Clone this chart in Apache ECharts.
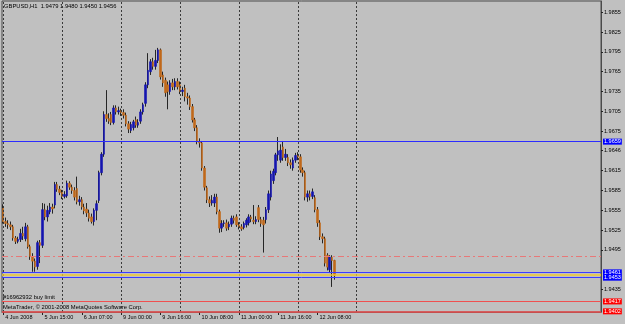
<!DOCTYPE html>
<html><head><meta charset="utf-8">
<script src="https://cdn.jsdelivr.net/npm/echarts@6/dist/echarts.min.js"></script>
<style>html,body{margin:0;padding:0;background:#c0c0c0}#c{width:625px;height:324px}</style>
</head><body><div id="c"></div><script>
const symbol = 'GBPUSD,H1';
const opens = [1.9558,1.9538,1.9535,1.9533,1.9530,1.9513,1.9508,1.9511,1.9520,1.9512,
1.9530,1.9500,1.9485,1.9478,1.9470,1.9506,1.9502,1.9556,1.9545,1.9553,
1.9560,1.9563,1.9594,1.9587,1.9582,1.9576,1.9577,1.9596,1.9590,1.9585,
1.9588,1.9568,1.9571,1.9560,1.9557,1.9551,1.9545,1.9538,1.9555,1.9570,
1.9612,1.9640,1.9700,1.9694,1.9700,1.9688,1.9710,1.9704,1.9706,1.9703,
1.9699,1.9686,1.9676,1.9680,1.9692,1.9684,1.9690,1.9704,1.9717,1.9745,
1.9765,1.9780,1.9773,1.9782,1.9798,1.9760,1.9752,1.9745,1.9735,1.9748,
1.9742,1.9750,1.9745,1.9735,1.9740,1.9727,1.9725,1.9712,1.9692,1.9680,
1.9659,1.9657,1.9619,1.9589,1.9571,1.9566,1.9566,1.9575,1.9553,1.9528,
1.9535,1.9536,1.9530,1.9534,1.9543,1.9545,1.9533,1.9530,1.9529,1.9533,
1.9536,1.9545,1.9540,1.9538,1.9559,1.9541,1.9540,1.9541,1.9556,1.9575,
1.9600,1.9612,1.9639,1.9631,1.9651,1.9635,1.9635,1.9627,1.9619,1.9631,
1.9638,1.9636,1.9616,1.9612,1.9575,1.9580,1.9576,1.9574,1.9556,1.9536,
1.9515,1.9512,1.9487,1.9465,1.9484,1.9479];
const closes = [1.9538,1.9535,1.9533,1.9530,1.9513,1.9508,1.9511,1.9520,1.9516,1.9530,
1.9500,1.9485,1.9478,1.9469,1.9506,1.9502,1.9556,1.9545,1.9555,1.9560,
1.9557,1.9594,1.9587,1.9582,1.9576,1.9579,1.9596,1.9590,1.9585,1.9575,
1.9568,1.9571,1.9560,1.9554,1.9551,1.9543,1.9538,1.9555,1.9565,1.9612,
1.9640,1.9700,1.9694,1.9690,1.9688,1.9710,1.9704,1.9706,1.9703,1.9699,
1.9686,1.9678,1.9685,1.9689,1.9684,1.9688,1.9704,1.9715,1.9745,1.9767,
1.9780,1.9773,1.9782,1.9798,1.9757,1.9748,1.9733,1.9735,1.9748,1.9742,
1.9750,1.9742,1.9735,1.9737,1.9727,1.9725,1.9712,1.9692,1.9680,1.9659,
1.9657,1.9619,1.9590,1.9571,1.9566,1.9570,1.9575,1.9553,1.9528,1.9535,
1.9536,1.9528,1.9534,1.9543,1.9540,1.9533,1.9530,1.9527,1.9535,1.9540,
1.9545,1.9542,1.9538,1.9541,1.9541,1.9535,1.9533,1.9556,1.9580,1.9610,
1.9614,1.9639,1.9645,1.9646,1.9635,1.9640,1.9627,1.9624,1.9631,1.9638,
1.9636,1.9616,1.9612,1.9575,1.9580,1.9576,1.9583,1.9556,1.9536,1.9515,
1.9512,1.9475,1.9469,1.9484,1.9479,1.9456];
const lows = [1.9535,1.9530,1.9527,1.9525,1.9509,1.9504,1.9505,1.9507,1.9510,1.9508,
1.9497,1.9480,1.9462,1.9462,1.9465,1.9475,1.9498,1.9540,1.9538,1.9549,
1.9550,1.9558,1.9583,1.9578,1.9572,1.9573,1.9574,1.9586,1.9580,1.9570,
1.9564,1.9562,1.9556,1.9549,1.9545,1.9538,1.9535,1.9532,1.9540,1.9566,
1.9608,1.9636,1.9689,1.9686,1.9684,1.9685,1.9700,1.9700,1.9698,1.9694,
1.9682,1.9672,1.9672,1.9676,1.9680,1.9680,1.9686,1.9700,1.9712,1.9740,
1.9760,1.9768,1.9768,1.9778,1.9753,1.9742,1.9727,1.9708,1.9730,1.9737,
1.9737,1.9738,1.9731,1.9728,1.9720,1.9715,1.9707,1.9688,1.9675,1.9655,
1.9650,1.9615,1.9585,1.9566,1.9560,1.9562,1.9560,1.9549,1.9521,1.9522,
1.9530,1.9524,1.9525,1.9530,1.9535,1.9530,1.9526,1.9524,1.9526,1.9529,
1.9532,1.9537,1.9534,1.9534,1.9537,1.9530,1.9491,1.9535,1.9551,1.9570,
1.9595,1.9608,1.9630,1.9627,1.9630,1.9630,1.9622,1.9618,1.9615,1.9627,
1.9631,1.9612,1.9606,1.9570,1.9568,1.9570,1.9572,1.9552,1.9530,1.9510,
1.9505,1.9470,1.9464,1.9460,1.9439,1.9450];
const highs = [1.9564,1.9544,1.9540,1.9538,1.9533,1.9516,1.9515,1.9527,1.9530,1.9536,
1.9533,1.9503,1.9490,1.9482,1.9509,1.9510,1.9566,1.9565,1.9562,1.9566,
1.9565,1.9598,1.9598,1.9592,1.9586,1.9584,1.9600,1.9599,1.9594,1.9590,
1.9606,1.9577,1.9575,1.9565,1.9566,1.9556,1.9550,1.9558,1.9570,1.9615,
1.9643,1.9705,1.9737,1.9702,1.9704,1.9714,1.9714,1.9712,1.9709,1.9708,
1.9703,1.9690,1.9689,1.9692,1.9697,1.9693,1.9708,1.9718,1.9749,1.9793,
1.9784,1.9786,1.9798,1.9801,1.9800,1.9765,1.9756,1.9750,1.9752,1.9754,
1.9755,1.9755,1.9750,1.9742,1.9745,1.9733,1.9729,1.9716,1.9695,1.9684,
1.9664,1.9660,1.9622,1.9592,1.9576,1.9578,1.9580,1.9580,1.9556,1.9540,
1.9540,1.9541,1.9538,1.9547,1.9547,1.9549,1.9537,1.9534,1.9538,1.9543,
1.9549,1.9548,1.9563,1.9546,1.9563,1.9545,1.9545,1.9560,1.9585,1.9615,
1.9618,1.9642,1.9666,1.9655,1.9660,1.9648,1.9640,1.9632,1.9635,1.9642,
1.9643,1.9640,1.9620,1.9615,1.9585,1.9585,1.9588,1.9578,1.9560,1.9540,
1.9520,1.9515,1.9490,1.9487,1.9487,1.9480];

const slotCount = 244;             // bar slots visible across the chart (incl. right shift)
const tickLabels = ['4 Jun 2008','5 Jun 15:00','6 Jun 07:00','9 Jun 00:00','9 Jun 16:00','10 Jun 08:00','11 Jun 00:00','11 Jun 16:00','12 Jun 08:00'];
const tickStep = 16;
const gridLineSlots = [0,24,48,72,96,120,144];
const priceTicks = [1.9855,1.9825,1.9795,1.9765,1.9735,1.9705,1.9675,1.9646,1.9615,1.9585,1.9555,1.9525,1.9495,1.9435];
const priceMin = 1.9401, priceMax = 1.9872;
const levelValues = [1.9659, 1.9486, 1.9461, 1.9457, 1.9453, 1.9417, 1.9402];
const levelLabels = ['1.9659', '', '1.9461', '', '1.9453', '1.9417', '1.9402'];
const orderText = '#16962932 buy limit';
const copyrightText = 'MetaTrader, \u00a9 2001-2008 MetaQuotes Software Corp.';

const FONT = 'Liberation Sans';
const levelStyles = [
  {color:'#2c2cff', type:'solid', width:1.2, bg:'#0000ff'},
  {color:'#e87878', type:[6,3,2,3], width:1, bg:null},
  {color:'#3c3cff', type:'solid', width:1, bg:'#0000ff'},
  {color:'#f0c830', type:'solid', width:1.5, bg:null},
  {color:'#3c3cff', type:'solid', width:1, bg:'#0000ff'},
  {color:'#f05050', type:'solid', width:1.2, bg:'#ff0000'},
  {color:'#f05050', type:'solid', width:1.5, bg:'#ff0000'}
];

const categories = Array.from({length: slotCount}, (_, i) => String(i));
const fullData = opens.map((o, i) => [o, closes[i], lows[i], highs[i]]);
const bodyData = opens.map((o, i) => [o, closes[i], Math.min(o, closes[i]), Math.max(o, closes[i])]);
const last = opens.length - 1;
const headerText = symbol + '  ' + [opens[last], highs[last], lows[last], closes[last]].map(v => v.toFixed(4)).join(' ');
const showTick = (i) => i % tickStep === 0 && i / tickStep < tickLabels.length;

const levelSeries = levelValues.map((v, k) => ({
  type: 'line', name: 'level' + k, data: [], z: 4 + k, color: levelStyles[k].color,
  markLine: {
    silent: true, symbol: ['none', 'none'], animation: false, precision: 4,
    lineStyle: {color: levelStyles[k].color, type: levelStyles[k].type, width: levelStyles[k].width, opacity: 1},
    emphasis: {disabled: true},
    label: levelLabels[k] ? {show: true, position: 'end', distance: 2, formatter: levelLabels[k],
      color: '#fff', backgroundColor: levelStyles[k].bg, padding: [0, 1, 0, 1], fontSize: 5.5, lineHeight: 6, fontFamily: FONT} : {show: false},
    data: [{yAxis: v}]
  }
}));

const chart = echarts.init(document.getElementById('c'), null, {renderer: 'canvas'});
chart.setOption({
  animation: false,
  backgroundColor: '#c0c0c0',
  grid: {left: 2, right: 24, top: 1, bottom: 12, show: true, borderColor: '#4a4a4a', borderWidth: 1, backgroundColor: 'transparent'},
  xAxis: {
    type: 'category', data: categories, boundaryGap: true,
    axisLine: {show: true, lineStyle: {color: '#4a4a4a', width: 1}},
    axisTick: {show: true, interval: (i) => showTick(i), alignWithLabel: true, length: 3, lineStyle: {color: '#222'}},
    axisLabel: {show: true, interval: (i) => showTick(i), formatter: (v, i) => tickLabels[Math.round(Number(v) / tickStep)],
      align: 'left', margin: 2, padding: [0, 0, 0, 2], fontSize: 5.5, fontFamily: FONT, color: '#000'},
    splitLine: {show: false}
  },
  yAxis: {
    type: 'value', position: 'right', min: priceMin, max: priceMax, scale: true,
    axisLine: {show: true, lineStyle: {color: '#4a4a4a', width: 1}},
    axisTick: {show: true, customValues: priceTicks, length: 2, lineStyle: {color: '#222'}},
    axisLabel: {show: true, customValues: priceTicks, formatter: (v) => Number(v).toFixed(4), margin: 3,
      fontSize: 5.5, fontFamily: FONT, color: '#000'},
    splitLine: {show: false}
  },
  series: [
    {
      type: 'line', name: 'grid', data: [], z: 1,
      markLine: {
        silent: true, symbol: ['none', 'none'], animation: false,
        label: {show: false},
        lineStyle: {color: '#3a3a3a', type: [2, 2], width: 1},
        data: gridLineSlots.map(s => ({xAxis: String(s)}))
      }
    },
    {
      type: 'candlestick', name: 'range', data: fullData, barWidth: 1, z: 2,
      itemStyle: {color: '#262626', color0: '#262626', borderColor: '#262626', borderColor0: '#262626', borderWidth: 1}
    },
    {
      type: 'candlestick', name: 'body', data: bodyData, barWidth: 2, z: 3,
      itemStyle: {color: '#1414b0', color0: '#c0681a', borderColor: '#1414b0', borderColor0: '#c0681a', borderWidth: 0.6}
    }
  ].concat(levelSeries),
  graphic: [
    {type: 'text', left: 4, top: 3, style: {text: headerText, font: '5.8px "Liberation Sans"', fill: '#000'}},
    {type: 'text', left: 3, top: 294, style: {text: orderText, font: '5.8px "Liberation Sans"', fill: '#000'}},
    {type: 'text', left: 3, top: 304, style: {text: copyrightText, font: '5.8px "Liberation Sans"', fill: '#000'}}
  ]
});
</script></body></html>
